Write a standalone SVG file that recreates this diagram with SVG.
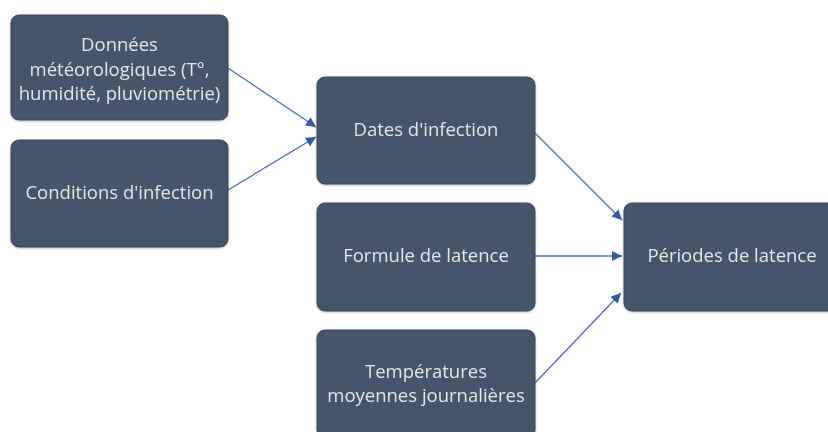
<svg xmlns="http://www.w3.org/2000/svg" width="828" height="432" viewBox="0 0 828 432">
<defs>
<style>
.box{fill:#44546A;stroke:#3a4960;stroke-width:1}
.t{font-family:"Open Sans","Liberation Sans",sans-serif;font-size:18.5px;fill:#E4E6EA;text-anchor:middle}
.c{stroke:#4A6FB5;stroke-width:1.3;fill:none;marker-end:url(#ah)}
</style>
<marker id="ah" viewBox="0 0 10 10" refX="10" refY="5" markerWidth="10" markerHeight="10" markerUnits="userSpaceOnUse" orient="auto">
<path d="M0,0 L10,5 L0,10 z" fill="#2F5BA8"/>
</marker>
<filter id="sh" x="-5%" y="-5%" width="110%" height="115%">
<feDropShadow dx="0" dy="1" stdDeviation="1" flood-color="#000" flood-opacity="0.25"/>
</filter>
</defs>
<rect width="828" height="432" fill="#ffffff"/>
<g id="connectors">
<line class="c" x1="228" y1="68" x2="316" y2="127"/>
<line class="c" x1="228" y1="190" x2="316" y2="137"/>
<line class="c" x1="535" y1="133" x2="622" y2="220"/>
<line class="c" x1="535" y1="256" x2="622" y2="256"/>
<line class="c" x1="535" y1="383" x2="621" y2="293"/>
</g>
<g id="n1" filter="url(#sh)">
<rect class="box" x="11" y="15" width="217" height="105" rx="8"/>
<text class="t" x="119.5" y="51">Données</text>
<text class="t" x="119.5" y="76">météorologiques (T°,</text>
<text class="t" x="119.5" y="100">humidité, pluviométrie)</text>
</g>
<g id="n2" filter="url(#sh)">
<rect class="box" x="11" y="140" width="217" height="107" rx="8"/>
<text class="t" x="119.5" y="199">Conditions d'infection</text>
</g>
<g id="n3" filter="url(#sh)">
<rect class="box" x="317" y="77" width="218" height="107" rx="8"/>
<text class="t" x="426" y="136">Dates d'infection</text>
</g>
<g id="n4" filter="url(#sh)">
<rect class="box" x="317" y="203" width="218" height="108" rx="8"/>
<text class="t" x="426" y="262">Formule de latence</text>
</g>
<g id="n5" filter="url(#sh)">
<rect class="box" x="317" y="330" width="218" height="108" rx="8"/>
<text class="t" x="426" y="378">Températures</text>
<text class="t" x="426" y="402">moyennes journalières</text>
</g>
<g id="n6" filter="url(#sh)">
<rect class="box" x="624" y="203" width="217" height="108" rx="8"/>
<text class="t" x="732" y="262">Périodes de latence</text>
</g>
</svg>
